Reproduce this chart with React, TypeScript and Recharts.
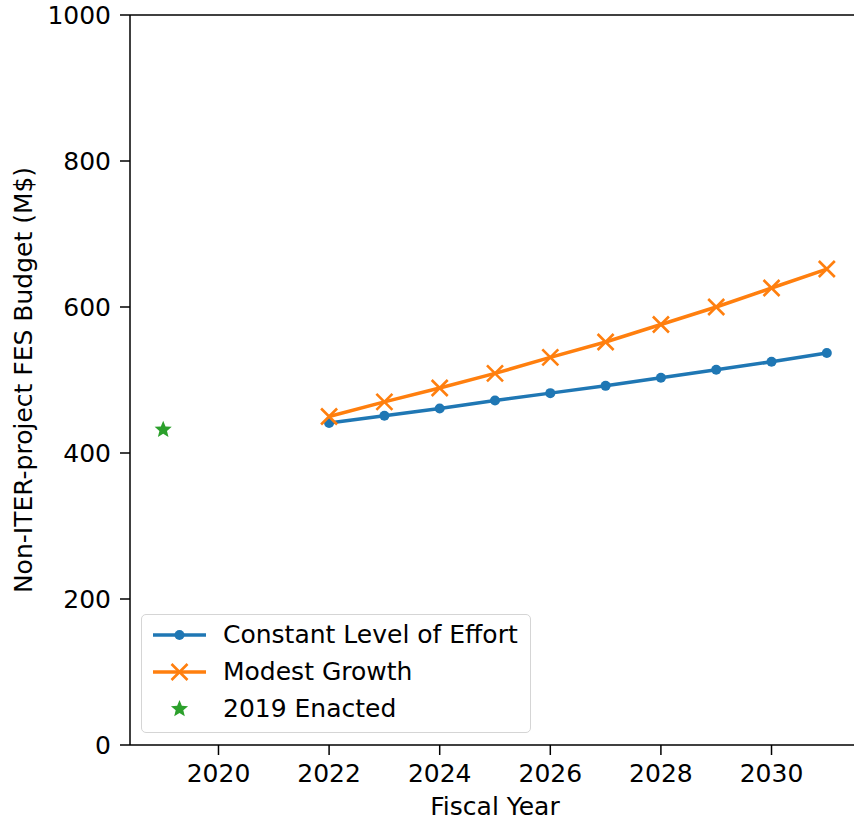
import React from 'react';
import { LineChart, Line, XAxis, YAxis, ReferenceLine } from 'recharts';

const years = [2019, 2022, 2023, 2024, 2025, 2026, 2027, 2028, 2029, 2030, 2031];
const constantEffort = [null, 441, 451, 461, 472, 482, 492, 503, 514, 525, 537];
const modestGrowth = [null, 450, 470, 489, 509, 531, 552, 576, 600, 626, 652];
const enacted2019 = [432, null, null, null, null, null, null, null, null, null, null];
const xTicks = [2020, 2022, 2024, 2026, 2028, 2030];
const yTicks = [0, 200, 400, 600, 800, 1000];
const seriesNames = ['Constant Level of Effort', 'Modest Growth', '2019 Enacted'];

const BLUE = '#1f77b4';
const ORANGE = '#ff7f0e';
const GREEN = '#2ca02c';
const FONT = '"DejaVu Sans", sans-serif';
const FS = 25;

const data = years.map((y, i) => ({
  year: y,
  constant: constantEffort[i],
  growth: modestGrowth[i],
  enacted: enacted2019[i],
}));

const starPath = (cx: number, cy: number, R: number, r: number) => {
  const pts: string[] = [];
  for (let k = 0; k < 10; k++) {
    const rad = k % 2 === 0 ? R : r;
    const a = -Math.PI / 2 + (k * Math.PI) / 5;
    pts.push(`${cx + rad * Math.cos(a)},${cy + rad * Math.sin(a)}`);
  }
  return `M${pts.join('L')}Z`;
};

const CircleDot = (props: any) => {
  const { cx, cy, value } = props;
  if (value == null || cx == null || cy == null) return <g key={props.key} />;
  return <circle key={props.key} cx={cx} cy={cy} r={5} fill={BLUE} />;
};

const XDot = (props: any) => {
  const { cx, cy, value } = props;
  if (value == null || cx == null || cy == null) return <g key={props.key} />;
  const h = 8;
  return (
    <path
      key={props.key}
      d={`M${cx - h},${cy - h}L${cx + h},${cy + h}M${cx - h},${cy + h}L${cx + h},${cy - h}`}
      stroke={ORANGE}
      strokeWidth={2.6}
      fill="none"
    />
  );
};

const StarDot = (props: any) => {
  const { cx, cy, value } = props;
  if (value == null || cx == null || cy == null) return <g key={props.key} />;
  return <path key={props.key} d={starPath(cx, cy, 9, 4)} fill={GREEN} />;
};

const LegendBox = () => {
  const rowH = 37;
  const icons = [
    (
      <svg width={60} height={20} style={{ display: 'block' }}>
        <line x1={2} y1={10} x2={55} y2={10} stroke={BLUE} strokeWidth={3.5} />
        <circle cx={28.5} cy={10} r={5} fill={BLUE} />
      </svg>
    ),
    (
      <svg width={60} height={20} style={{ display: 'block' }}>
        <line x1={2} y1={10} x2={55} y2={10} stroke={ORANGE} strokeWidth={3.5} />
        <path d="M20.5,2L36.5,18M20.5,18L36.5,2" stroke={ORANGE} strokeWidth={2.6} />
      </svg>
    ),
    (
      <svg width={60} height={20} style={{ display: 'block' }}>
        <path d={starPath(28.5, 10, 9, 4)} fill={GREEN} />
      </svg>
    ),
  ];
  return (
    <div
      style={{
        position: 'absolute',
        left: 141,
        top: 614,
        width: 390,
        height: 119,
        boxSizing: 'border-box',
        border: '1.5px solid #d5d5d5',
        borderRadius: 5,
        background: 'rgba(255,255,255,0.8)',
        fontFamily: FONT,
        fontSize: FS,
        color: '#000',
        paddingTop: 1,
      }}
    >
      {seriesNames.map((name, i) => (
        <div key={name} style={{ display: 'flex', alignItems: 'center', height: rowH }}>
          <div style={{ marginLeft: 9, width: 72 }}>{icons[i]}</div>
          <span style={{ whiteSpace: 'nowrap' }}>{name}</span>
        </div>
      ))}
    </div>
  );
};

const YLabel = (props: any) => {
  const { viewBox } = props;
  const cy = viewBox.y + viewBox.height / 2;
  const x = 23;
  return (
    <text
      x={x}
      y={cy}
      transform={`rotate(-90, ${x}, ${cy})`}
      textAnchor="middle"
      dominantBaseline="central"
      fontFamily={FONT}
      fontSize={FS}
      fill="#000"
    >
      Non-ITER-project FES Budget (M$)
    </text>
  );
};

const XLabel = (props: any) => {
  const { viewBox } = props;
  const cx = viewBox.x + viewBox.width / 2;
  return (
    <text x={cx} y={815} textAnchor="middle" fontFamily={FONT} fontSize={FS} fill="#000">
      Fiscal Year
    </text>
  );
};

export default function App() {
  return (
    <div
      style={{
        position: 'absolute',
        left: 0,
        top: 0,
        width: 854,
        height: 821,
        overflow: 'hidden',
        background: '#fff',
        fontFamily: FONT,
      }}
    >
      <LineChart
        width={870}
        height={821}
        data={data}
        margin={{ top: 15, right: 10, bottom: 0, left: 0 }}
      >
        <XAxis
          dataKey="year"
          type="number"
          domain={[2018.4, 2031.6]}
          ticks={xTicks}
          allowDataOverflow
          height={76}
          tickSize={10}
          tickMargin={9}
          stroke="#000"
          strokeWidth={1.5}
          tick={{ fontSize: FS, fill: '#000', fontFamily: FONT }}
          label={<XLabel />}
        />
        <YAxis
          type="number"
          domain={[0, 1000]}
          ticks={yTicks}
          allowDataOverflow
          width={130}
          tickSize={10}
          tickMargin={9}
          stroke="#000"
          strokeWidth={1.5}
          tick={{ fontSize: FS, fill: '#000', fontFamily: FONT }}
          label={<YLabel />}
        />
        <ReferenceLine y={1000} stroke="#000" strokeWidth={1.5} />
        <Line
          dataKey="constant"
          stroke={BLUE}
          strokeWidth={3.5}
          dot={<CircleDot />}
          activeDot={false}
          isAnimationActive={false}
          connectNulls={false}
        />
        <Line
          dataKey="growth"
          stroke={ORANGE}
          strokeWidth={3.5}
          dot={<XDot />}
          activeDot={false}
          isAnimationActive={false}
          connectNulls={false}
        />
        <Line
          dataKey="enacted"
          stroke="none"
          dot={<StarDot />}
          activeDot={false}
          isAnimationActive={false}
        />
      </LineChart>
      <LegendBox />
    </div>
  );
}
